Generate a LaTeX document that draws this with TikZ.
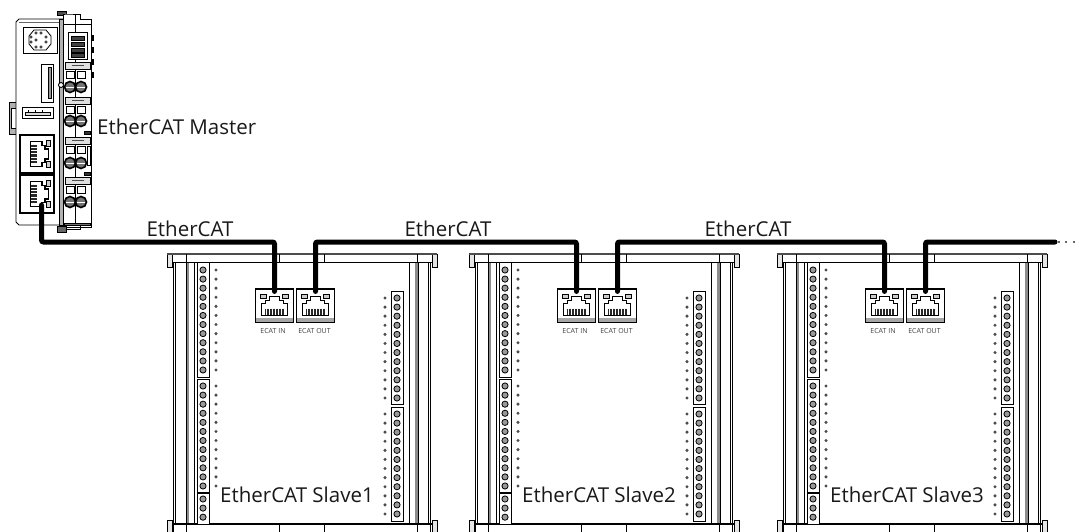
\documentclass[tikz,border=0pt]{standalone}
\usepackage{fontspec}
\setmainfont{Open Sans}
\usetikzlibrary{arrows}
\tikzset{
  part/.style={draw=black, line width=0.9pt, fill=white},
  grayband/.style={draw=black, line width=0.5pt, fill=black!45},
  labeltext/.style={font=\fontsize{20.5}{24}\selectfont, inner sep=0pt, text=black!90},
  porttext/.style={font=\fontsize{7}{8}\selectfont, inner sep=0pt, text=black!75},
  portbox/.style={draw=black, line width=1.1pt, fill=white, minimum width=38, minimum height=33, inner sep=0pt},
  masterport/.style={draw=black, line width=1.1pt, fill=white, minimum width=34, inner sep=0pt},
  cable/.style={line width=5pt, black, line cap=round, rounded corners=2pt, shorten >=-3pt, shorten <=-3pt},
  screw/.style={draw=black, line width=0.8pt, fill=black!40},
  pics/rjjack/.style={code={
    % Jack outline
    \draw[line width=1.6pt, fill=white] (-13,10) -- (-13,-2) -- (-9,-2) -- (-9,-5) -- (-5,-5) -- (-5,-9)
      -- (5,-9) -- (5,-5) -- (9,-5) -- (9,-2) -- (13,-2) -- (13,10) -- cycle;
    \draw[line width=0.7pt, fill=black!20] (-14,-11) rectangle (-8,-7);
    \draw[line width=0.7pt, fill=black!20] (8,-11) rectangle (14,-7);
    % Contacts
    \foreach \c in {-9,-7.5,...,9}
    \draw[line width=0.8pt, black!85] (\c,3) -- (\c,9);
  }}
}
\begin{document}
\begin{tikzpicture}[x=1pt, y=-1pt]
  \useasboundingbox (0,0) rectangle (1079,532);
  \coordinate (bus) at (0,242);

  % DIN clip
  \draw[grayband, fill=black!30] (9,102) rectangle (16,134);
  \draw[part] (11,108) rectangle (16,128);

  % IO module of the master
  \draw[part, fill=black!70] (57,11) rectangle (66,15);
  \draw[part] (66,14) -- (80,14) -- (80,19) -- (91,19) -- (91,227) -- (63,227) -- (63,14) -- cycle;
  \draw[part, fill=black!60] (57,226) rectangle (66,232);
  \draw[line width=0.6pt] (66,229) -- (80,229) -- (80,224);
  \draw[line width=0.8pt] (75,15) -- (75,226);
  \draw[line width=0.6pt] (63,24) -- (91,24);
  \draw[fill=black!55, draw=black] (64,223) rectangle (90,225);
  % DIP switch
  \draw[part, line width=1pt] (68,33) rectangle (87,60);
  \foreach \y in {38,44,50,55}
  \draw[fill=black!75, draw=black] (71,\y-2) rectangle (84,\y+2);
  \foreach \y in {35,47,59,72}
  \draw[fill=black, draw=black] (91,\y) rectangle (93,\y+5);
  % Terminals
  \foreach \y in {62,97,137,177}{
    \draw[line width=0.6pt, fill=black!12] (65,\y) rectangle (90,\y+7);
    \draw[line width=0.8pt, black!70] (72,\y+3.5) -- (84,\y+3.5);
    \draw[line width=0.6pt] (66,\y+9) rectangle (74,\y+16);
    \draw[line width=0.6pt] (77,\y+9) rectangle (85,\y+16);
  }
  \foreach \y in {87,121,163,202}{
    \draw[line width=1.6pt, fill=black!55] (70,\y) circle (5.5);
    \draw[line width=1.6pt, fill=black!55] (81,\y) circle (5.5);
    \draw[line width=0.5pt, white] (66,\y) -- (74,\y) (77,\y) -- (85,\y);
  }
  \draw[fill=black!80] (84,131) rectangle (90,134);
  \draw[fill=black!80] (84,172) rectangle (90,175);
  \draw[line width=0.7pt] (87,146) rectangle (90,165);

  % Body of the master
  \draw[part] (16,22) -- (19,19) -- (63,19) -- (63,225) -- (19,225) -- (16,222) -- cycle;
  \draw[grayband, fill=black!30] (59,19) rectangle (63,225);
  \draw[line width=0.5pt, black!60] (19,22) -- (59,22);
  \draw[part, fill=white] (61,85) circle (2.5);
  % Round connector
  \draw[part] (23,27) rectangle (57,53);
  \draw[line width=0.8pt, fill=white] (34,30) -- (46,30) -- (51,36) -- (51,44) -- (46,50) -- (34,50) -- (29,44) -- (29,36) -- cycle;
  \foreach \x/\y in {36/33,41/33,31/37,31/42,36/40,46/37,46/42,41/47,36/47}
  \draw[line width=0.5pt, fill=white] (\x,\y) circle (1.2);
  % Card slot
  \draw[part] (41,64) rectangle (53,102);
  \draw[line width=0.8pt, fill=black!40] (48,67) rectangle (51,98);
  % USB slot
  \draw[part] (22,107) rectangle (53,118);
  \draw[line width=0.5pt, fill=black!15] (25,112) rectangle (50,115);
  \foreach \x in {28,35,42}
  \draw[line width=0.5pt] (\x,110) -- (\x,112);

  % Master ports
  \node[masterport, minimum height=38] (mport1) at (37,154) {};
  \node[masterport, minimum height=38] (mport2) at (37,194) {};
  \pic[rotate=-90, scale=0.95] at (40,154) {rjjack};
  \pic[rotate=-90, scale=0.95] at (40,194) {rjjack};
  \coordinate (mplug) at (41.5,208);
  \node[labeltext, anchor=west] (mlabel) at (97,127) {EtherCAT Master};

  % Slaves
  \foreach \dx/\n in {0/1,302/2,610/3}{
    \begin{scope}[shift={(\dx,0)}]
      % Housing
      \draw[part] (173,262) rectangle (430,532);
      \fill[black!45] (186,262) rectangle (189,524);
      \fill[black!45] (415,262) rectangle (418,524);
      \draw[line width=0.8pt] (186,262) -- (186,524) (194,262) -- (194,524) (409,262) -- (409,524) (418,262) -- (418,524) (175,262) -- (175,524) (428,262) -- (428,524);
      % Top rail
      \draw[part, fill=black!10] (167,254) rectangle (172,267);
      \draw[part, fill=black!10] (432,254) rectangle (437,267);
      \draw[line width=1.2pt, black!70] (167,254) -- (437,254);
      \draw[line width=0.9pt] (172,262) -- (432,262) (186,254) -- (186,262) (279,254) -- (279,262) (324,254) -- (324,262) (417,254) -- (417,262);
      % Bottom rail
      \draw[part, fill=black!10] (167,520) rectangle (172,532);
      \draw[part, fill=black!10] (432,520) rectangle (437,532);
      \draw[line width=1.2pt] (172,524) -- (432,524);
      \draw[line width=0.9pt] (186,524) -- (186,532) (279,524) -- (279,532) (324,524) -- (324,532) (417,524) -- (417,532);
      % Terminal blocks
      \draw[part] (197,262) rectangle (209,377);
      \draw[part] (197,379) rectangle (209,492);
      \draw[part] (197,493) rectangle (209,524);
      \draw[part] (391,291) rectangle (403,404);
      \draw[part] (391,407) rectangle (403,521);
      \foreach \s in {0,...,11}{
        \draw[screw] (203,270+\s*9.09) circle (3.1);
        \draw[screw] (203,386+\s*9.09) circle (3.1);
        \draw[screw] (397,298+\s*9.09) circle (3.1);
        \draw[screw] (397,414+\s*9.09) circle (3.1);
        \fill[black!70] (216,270+\s*9.09) circle (1.7);
        \fill[black!70] (216,386+\s*9.09) circle (1.7);
        \fill[black!70] (385,298+\s*9.09) circle (1.7);
        \fill[black!70] (385,414+\s*9.09) circle (1.7);
      }
      \foreach \s in {0,1,2}
      \draw[screw] (203,499+\s*9.09) circle (3.1);
      % Ports
      \node[portbox] (in\n) at (274.5,305.5) {};
      \node[portbox] (out\n) at (315.5,305.5) {};
      \fill[black!35] (256,318) rectangle (293,321.5);
      \fill[black!35] (297,318) rectangle (334,321.5);
      \pic at (in\n) {rjjack};
      \pic at (out\n) {rjjack};
      \node[porttext] (inlabel\n) at (273,331) {ECAT IN};
      \node[porttext] (outlabel\n) at (314.5,331) {ECAT OUT};
      \node[labeltext] (slave\n) at (297,495) {EtherCAT Slave\n};
    \end{scope}
  }

  % Cables
  \coordinate (tail) at (1052,242);
  \draw[cable] (mplug) -- (mplug |- bus) -- (bus -| in1.north) -- (in1.north);
  \draw[cable] (out1.north) -- (out1.north |- bus) -- (bus -| in2.north) -- (in2.north);
  \draw[cable] (out2.north) -- (out2.north |- bus) -- (bus -| in3.north) -- (in3.north);
  \draw[cable] (out3.north) -- (out3.north |- bus) -- (tail);
  \foreach \x in {1059,1066,1074}
  \fill[black!80] (\x,242) circle (1.2);

  % Cable labels
  \node[labeltext] (bus1) at (190,229) {EtherCAT};
  \node[labeltext] (bus2) at (448,229) {EtherCAT};
  \node[labeltext] (bus3) at (748,229) {EtherCAT};
\end{tikzpicture}
\end{document}
